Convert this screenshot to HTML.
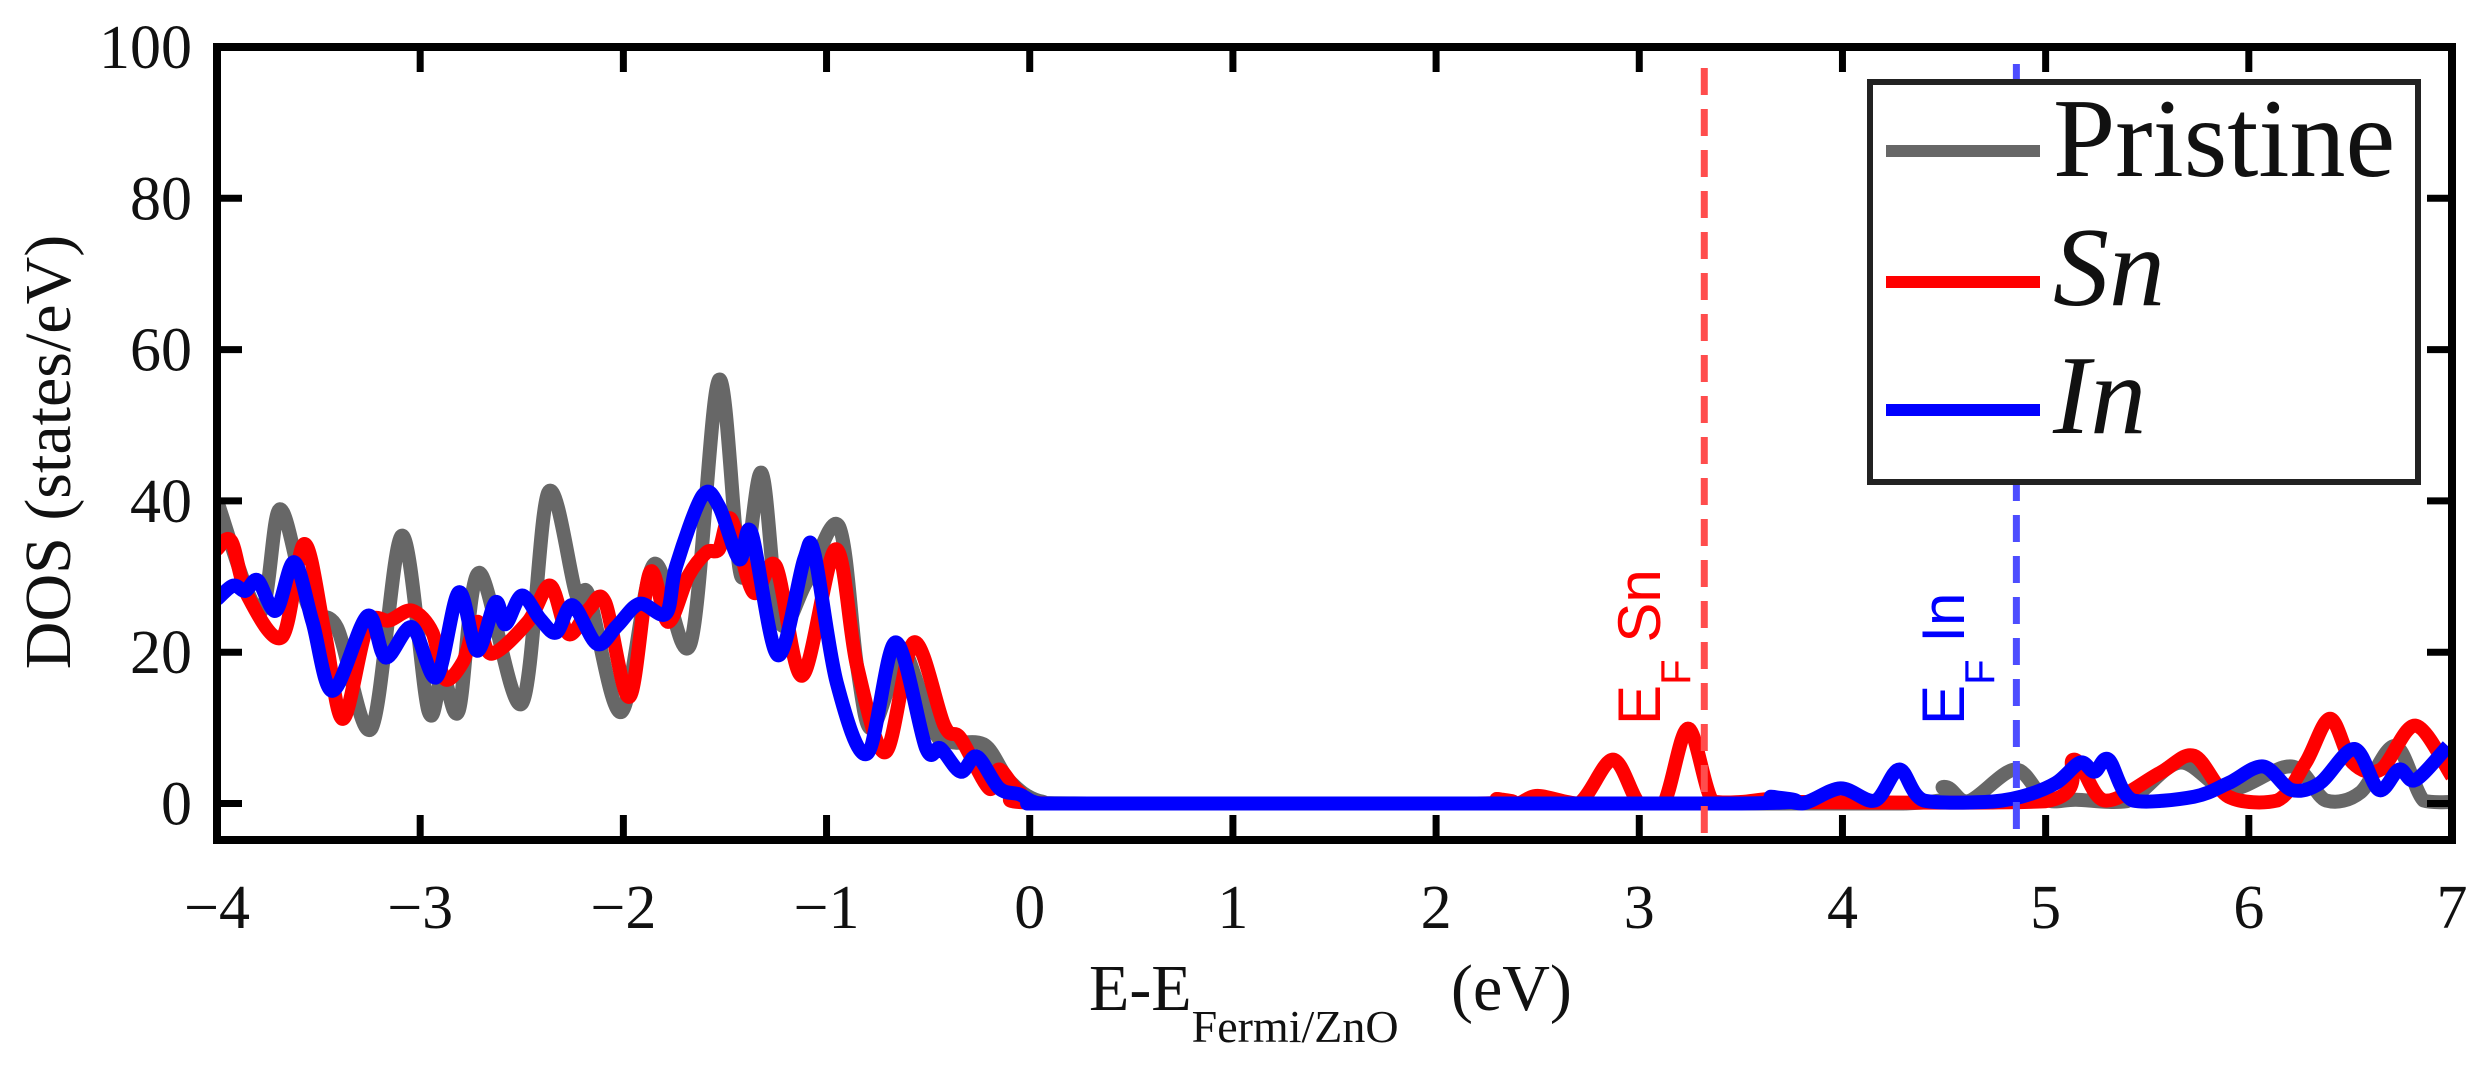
<!DOCTYPE html>
<html><head><meta charset="utf-8"><style>
html,body{margin:0;padding:0;background:#fff;}
svg{display:block;}
</style></head><body>
<svg id="chart" width="2485" height="1066" viewBox="0 0 2485 1066" xmlns="http://www.w3.org/2000/svg" style="font-family:'Liberation Serif',serif">
<defs><clipPath id="plotclip"><rect x="217" y="47" width="2235" height="793"/></clipPath></defs>
<g id="series" clip-path="url(#plotclip)"></g>
<g id="frame"></g>
<g id="labels"></g>
</svg>
<script>
const xTicks = [-4,-3,-2,-1,0,1,2,3,4,5,6,7];
const xTickLabels = ["\u22124","\u22123","\u22122","\u22121","0","1","2","3","4","5","6","7"];
const yTicks = [0,20,40,60,80,100];
const yTickLabels = ["0","20","40","60","80","100"];
const pristineX = [-4,-3.79,-3.69,-3.55,-3.41,-3.24,-3.09,-2.96,-2.89,-2.81,-2.71,-2.5,-2.37,-2.23,-2.17,-2.01,-1.85,-1.67,-1.53,-1.42,-1.32,-1.23,-1.1,-0.94,-0.85,-0.78,-0.66,-0.61,-0.47,-0.38,-0.22,-0.1,0.05,0.3,2,4.3,4.5,4.62,4.85,5.0,5.15,5.4,5.66,5.9,6.21,6.38,6.55,6.72,6.86,7];
const pristineY = [40,25.3,38.9,26,23.3,9.9,35.4,12.3,17,12.3,30.5,13.2,41.1,27.5,27.5,12.1,31.6,21.1,56,30,43.7,24,29.2,36.7,18.2,9.9,18.2,20,9.5,8.1,7.7,3,0.3,0,0,0,2.2,0.3,4.5,0.5,0.5,0.3,5.4,1.8,4.9,0.4,1.5,7.6,0.4,0.2];
const snX = [-4,-3.93,-3.85,-3.68,-3.57,-3.47,-3.38,-3.26,-3.15,-3.04,-2.94,-2.88,-2.79,-2.72,-2.65,-2.47,-2.36,-2.27,-2.17,-2.09,-1.97,-1.87,-1.78,-1.68,-1.59,-1.53,-1.47,-1.36,-1.25,-1.12,-0.955,-0.85,-0.71,-0.57,-0.42,-0.34,-0.2,-0.15,-0.05,0.1,2.2,2.3,2.4,2.5,2.7,2.87,3.0,3.12,3.24,3.36,3.5,3.65,3.8,5.0,5.14,5.29,5.56,5.73,5.9,6.14,6.28,6.4,6.51,6.65,6.82,7];
const snY = [33.6,34.7,27.5,22,34.3,22.6,11.2,23.5,24.2,25.5,22.6,16.5,18.7,24,19.8,24,28.8,22.4,25.7,26.6,14.1,30.5,24,30.1,33.2,33.6,37.6,27.9,31.4,16.9,33.6,18.2,6.8,21.3,10.3,8.6,2,4.5,1.5,0,0,0.6,0,1,0,5.8,0,0,9.9,0.3,0.2,0.6,0.2,0.3,5.8,0.4,4,6.3,0.9,0.4,5.4,11.2,5.4,4.5,10.3,3.6];
const inX = [-4,-3.92,-3.86,-3.8,-3.71,-3.62,-3.53,-3.43,-3.26,-3.17,-3.04,-2.92,-2.81,-2.72,-2.63,-2.58,-2.5,-2.41,-2.33,-2.25,-2.13,-2.03,-1.92,-1.79,-1.74,-1.61,-1.53,-1.43,-1.37,-1.24,-1.11,-1.06,-0.95,-0.8,-0.66,-0.51,-0.44,-0.34,-0.26,-0.15,-0.05,0.05,0.3,3.5,3.65,3.8,3.99,4.16,4.28,4.4,4.7,4.88,5.05,5.17,5.24,5.31,5.43,5.73,5.9,6.07,6.21,6.35,6.52,6.64,6.74,6.82,6.98];
const inY = [27,28.8,28.1,29.5,25.5,31.9,24,14.9,24.8,19.3,23.3,16.7,27.9,20.2,26.6,23.7,27.5,24.4,22.6,26.2,21.1,23.5,26.4,25.1,31.4,40.7,39.3,32.3,35.8,19.6,32.3,33,16,6.6,21.3,7.3,7.3,4.2,6.2,2,1.2,0,0,0,0.9,0,2,0.4,4.5,0.4,0.2,0.9,2.7,5.4,4.2,5.8,0.4,0.9,2.7,4.9,1.8,2.7,7.2,1.8,4.5,3.1,7.6];
const efSn = 3.32, efIn = 4.856;

const L=217,R=2452,T=47,B=840, XMIN=-4,XMAX=7, YMAX=100, Y0=803.5;
const NS="http://www.w3.org/2000/svg";
function sx(v){return L+(v-XMIN)*(R-L)/(XMAX-XMIN);}
function sy(v){return Y0-v*(Y0-T)/YMAX;}
function mk(tag,attrs,parent){const e=document.createElementNS(NS,tag);for(const k in attrs)e.setAttribute(k,attrs[k]);parent.appendChild(e);return e;}
function smoothPath(xs,ys){
  const p=xs.map((x,i)=>[sx(x),sy(ys[i])]);
  let d="M"+p[0][0].toFixed(1)+","+p[0][1].toFixed(1);
  for(let i=0;i<p.length-1;i++){
    const p0=p[Math.max(0,i-1)],p1=p[i],p2=p[i+1],p3=p[Math.min(p.length-1,i+2)];
    const t=0.16;
    let c1x=p1[0]+(p2[0]-p0[0])*t,c1y=p1[1]+(p2[1]-p0[1])*t;
    let c2x=p2[0]-(p3[0]-p1[0])*t,c2y=p2[1]-(p3[1]-p1[1])*t;
    const mx=Math.max(p1[1],p2[1]); c1y=Math.min(c1y,Math.max(mx,sy(0))); c2y=Math.min(c2y,Math.max(mx,sy(0)));
    d+=" C"+c1x.toFixed(1)+","+c1y.toFixed(1)+" "+c2x.toFixed(1)+","+c2y.toFixed(1)+" "+p2[0].toFixed(1)+","+p2[1].toFixed(1);
  }
  return d;
}
const sg=document.getElementById('series');
const fr=document.getElementById('frame');
const lb=document.getElementById('labels');

let e;
e=mk('path',{d:smoothPath(pristineX,pristineY),fill:'none',stroke:'#676767','stroke-width':14,'stroke-linejoin':'round'},sg);


e=mk('path',{d:smoothPath(snX,snY),fill:'none',stroke:'#ff0000','stroke-width':14,'stroke-linejoin':'round'},sg);


e=mk('path',{d:smoothPath(inX,inY),fill:'none',stroke:'#0000ff','stroke-width':14,'stroke-linejoin':'round'},sg);



e=mk('line',{x1:sx(efSn),x2:sx(efSn),y1:68,y2:B,stroke:'#ff4d4d','stroke-width':7,'stroke-dasharray':'27,14'},sg);


e=mk('line',{x1:sx(efIn),x2:sx(efIn),y1:64,y2:B,stroke:'#4d4dff','stroke-width':7,'stroke-dasharray':'27,14'},sg);



e=mk('rect',{x:L,y:T,width:R-L,height:B-T,fill:'none',stroke:'#000','stroke-width':8},fr);


xTicks.forEach((v,i)=>{
  const x=sx(v);
  mk('line',{x1:x,x2:x,y1:B,y2:B-25,stroke:'#000','stroke-width':7},fr);
  mk('line',{x1:x,x2:x,y1:T,y2:T+25,stroke:'#000','stroke-width':7},fr);
  const t=mk('text',{x:x,y:928,'font-size':62,'text-anchor':'middle',fill:'#111'},lb);
  t.textContent=xTickLabels[i];
  
  
});
yTicks.forEach((v,i)=>{
  const y=sy(v);
  mk('line',{x1:L,x2:L+25,y1:y,y2:y,stroke:'#000','stroke-width':7},fr);
  mk('line',{x1:R,x2:R-25,y1:y,y2:y,stroke:'#000','stroke-width':7},fr);
  const t=mk('text',{x:192,y:y+21,'font-size':62,'text-anchor':'end',fill:'#111'},lb);
  t.textContent=yTickLabels[i];
  
  
});
</script>
<svg style="position:absolute;left:0;top:0" width="2485" height="1066" xmlns="http://www.w3.org/2000/svg">
<text transform="translate(70,452) rotate(-90)" text-anchor="middle" font-size="66" style="font-family:'Liberation Serif',serif" fill="#111">DOS (states/eV)</text>
<text x="1089" y="1010" font-size="66" style="font-family:'Liberation Serif',serif" fill="#111">E-E<tspan dy="32" font-size="46">Fermi/ZnO</tspan><tspan dy="-32" x="1451">(eV)</tspan></text>
<text transform="translate(1660,725) rotate(-90)" font-size="60" style="font-family:'Liberation Sans',sans-serif" fill="#ff0000">E<tspan dy="30" font-size="42">F</tspan><tspan dy="-30"> Sn</tspan></text>
<text transform="translate(1964,725) rotate(-90)" font-size="60" style="font-family:'Liberation Sans',sans-serif" fill="#0000ff">E<tspan dy="30" font-size="42">F</tspan><tspan dy="-30"> In</tspan></text>
<g>
<rect x="1870" y="82" width="548" height="400" fill="#fff" stroke="#222" stroke-width="6"/>
<line x1="1886" x2="2040" y1="151" y2="151" stroke="#676767" stroke-width="12"/>
<line x1="1886" x2="2040" y1="282" y2="282" stroke="#ff0000" stroke-width="12"/>
<line x1="1886" x2="2040" y1="410" y2="410" stroke="#0000ff" stroke-width="12"/>
<text x="2053" y="176" font-size="112" style="font-family:'Liberation Serif',serif" fill="#111">Pristine</text>
<text x="2053" y="305" font-size="112" font-style="italic" style="font-family:'Liberation Serif',serif" fill="#111">Sn</text>
<text x="2053" y="433" font-size="112" font-style="italic" style="font-family:'Liberation Serif',serif" fill="#111">In</text>
</g>
</svg>
</body></html>
